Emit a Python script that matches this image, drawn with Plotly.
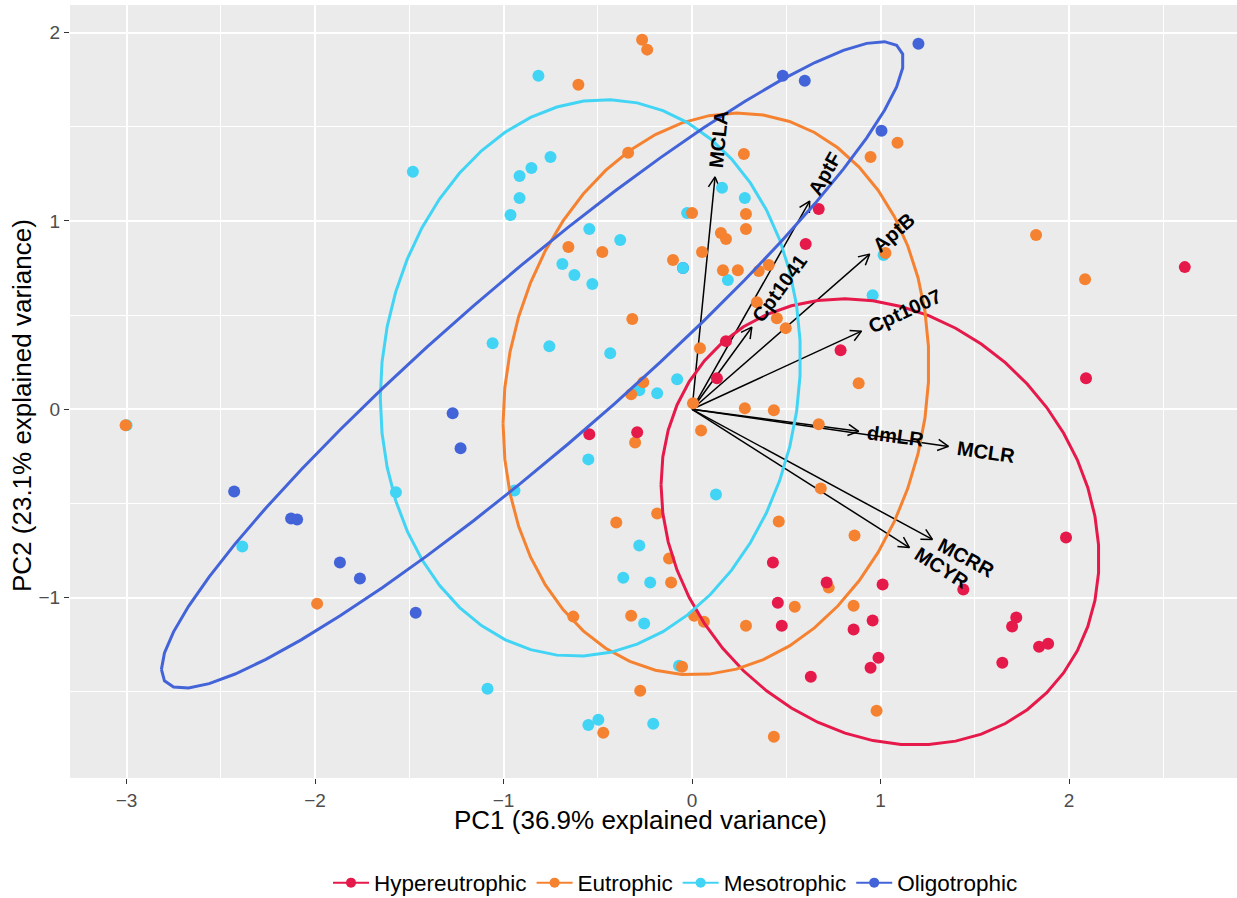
import numpy as np
import plotly.graph_objects as go

# ---------------- data ----------------
groups = ["Hypereutrophic", "Eutrophic", "Mesotrophic", "Oligotrophic"]
group_colors = ["#e6194b", "#f58231", "#42d4f4", "#4363d8"]

hyper_pc1 = [2.614, 2.090, 0.672, 0.603, 0.788, 0.180, 0.132, -0.545, -0.291, 1.984, 1.439, 0.429, 0.455,
             0.476, 0.714, 0.857, 0.958, 1.011, 0.989, 0.947, 0.630, 1.646, 1.698, 1.720, 1.841, 1.889]
hyper_pc2 = [0.755, 0.165, 1.064, 0.878, 0.314, 0.362, 0.165, -0.133, -0.122, -0.681, -0.957, -0.814, -1.027,
             -1.149, -0.920, -1.170, -1.122, -0.931, -1.319, -1.372, -1.420, -1.346, -1.154, -1.106, -1.261, -1.245]

eu_pc1 = [-3.005, -1.989, -0.265, -0.238, -0.603, -0.339, -0.656, -0.476, -0.101, -0.317, -0.259, -0.323,
          -0.302, -0.402, -0.185, -0.122, -0.111, -0.630, -0.323, 0.011, 0.063, -0.053, -0.275, -0.471,
          0.434, 0.286, 0.545, 0.857, 0.725, 0.862, 0.460, 0.683, 0.672, 0.280, 0.434, 0.048, 0.979,
          0.005, 0.042, 0.000, 0.053, 0.153, 0.180, 0.164, 0.243, 0.275, 0.286, 0.286, 0.354, 0.407,
          0.344, 0.450, 0.497, 0.884, 0.947, 1.090, 1.026, 1.825, 2.085]
eu_pc2 = [-0.085, -1.032, 1.963, 1.910, 1.723, 1.362, 0.862, 0.835, 0.793, 0.479, 0.144, 0.080,
          -0.176, -0.601, -0.553, -0.793, -0.920, -1.101, -1.096, -1.096, -1.128, -1.367, -1.495, -1.718,
          -1.739, -1.149, -1.048, -1.043, -0.947, -0.670, -0.596, -0.420, -0.080, 0.005, -0.005, -0.112, -1.601,
          0.032, 0.324, 1.043, 0.835, 0.936, 0.904, 0.739, 0.739, 1.356, 1.037, 0.957, 0.734, 0.766,
          0.569, 0.484, 0.431, 0.138, 1.340, 1.415, 0.830, 0.926, 0.691]

# last value pair: sample hidden under the left-most Eutrophic point
meso_pc1 = [-0.815, -1.481, -0.751, -0.852, -0.915, -0.915, -0.963, -0.545, -0.381, -0.688, -0.624, -0.529,
            -1.058, -0.757, -0.434, -0.079, -0.185, -0.280, -0.026, -0.048, 0.159, 0.280, 0.190, 0.958,
            1.016, -2.386, -1.571, -0.942, -0.550, -0.280, -0.365, -0.222, -0.254, -1.085, -0.550, -0.497,
            -0.206, -0.069, 0.127, -3.000]
meso_pc2 = [1.771, 1.261, 1.340, 1.282, 1.239, 1.122, 1.032, 0.957, 0.899, 0.771, 0.713, 0.665,
            0.351, 0.335, 0.298, 0.160, 0.085, 0.101, 1.043, 0.750, 1.176, 1.122, 0.686, 0.606,
            0.819, -0.729, -0.441, -0.431, -0.266, -0.723, -0.894, -0.920, -1.138, -1.484, -1.676, -1.649,
            -1.670, -1.362, -0.452, -0.085]

# last value pair: sample hidden under an overlapping Mesotrophic point
oligo_pc1 = [1.201, 0.481, 0.598, 1.005, -1.270, -1.228, -1.466, -2.429, -2.127, -2.095, -1.868, -1.762, -0.048]
oligo_pc2 = [1.941, 1.771, 1.745, 1.479, -0.021, -0.207, -1.080, -0.436, -0.580, -0.585, -0.814, -0.899, 0.750]

var_names = ["MCLA", "AptF", "AptB", "Cpt1041", "Cpt1007", "dmLR", "MCLR", "MCRR", "MCYR"]
var_pc1 = [0.122, 0.624, 0.942, 0.317, 0.899, 0.884, 1.360, 1.275, 1.153]
var_pc2 = [1.234, 1.106, 0.824, 0.436, 0.415, -0.117, -0.197, -0.691, -0.734]

x_title = "PC1 (36.9% explained variance)"
y_title = "PC2 (23.1% explained variance)"

# ---------------- layout constants ----------------
W, H = 1237, 898
ML, MR, MT, MB = 70, 0, 5, 120
x_range = [-3.300, 2.891]
y_range = [-1.958, 2.147]
sx = (W - ML - MR) / (x_range[1] - x_range[0])
sy = (H - MT - MB) / (y_range[1] - y_range[0])
FONT = "Liberation Sans, Arial, Helvetica, sans-serif"

group_x = [hyper_pc1, eu_pc1, meso_pc1, oligo_pc1]
group_y = [hyper_pc2, eu_pc2, meso_pc2, oligo_pc2]

fig = go.Figure()

# ---------------- arrows (drawn first, under points) ----------------
head_len = 12.0
head_ang = np.deg2rad(28)
ax_list, ay_list = [], []
for vx, vy in zip(var_pc1, var_pc2):
    px, py = vx * sx, vy * sy
    n = np.hypot(px, py)
    ux, uy = px / n, py / n
    pts = []
    for s in (1, -1):
        c, si = np.cos(s * head_ang), np.sin(s * head_ang)
        rx, ry = ux * c - uy * si, ux * si + uy * c
        pts.append((vx - head_len * rx / sx, vy - head_len * ry / sy))
    ax_list += [0, vx, None, pts[0][0], vx, pts[1][0], None]
    ay_list += [0, vy, None, pts[0][1], vy, pts[1][1], None]

fig.add_trace(go.Scatter(x=ax_list, y=ay_list, mode="lines",
                         line=dict(color="black", width=1.5),
                         hoverinfo="skip", showlegend=False))

# ---------------- points (drawing order: Oligo, Meso, Eu, Hyper) ----------------
for i in [3, 2, 1, 0]:
    fig.add_trace(go.Scatter(x=group_x[i], y=group_y[i], mode="markers", name=groups[i],
                             marker=dict(color=group_colors[i], size=12, line=dict(width=0)),
                             showlegend=False, legendgroup=groups[i]))

# ---------------- normal-probability ellipses (ggbiplot style, p = 0.68) ----------------
ellipse_prob = 0.68
theta = np.linspace(-np.pi, np.pi, 50)
circle = np.column_stack([np.cos(theta), np.sin(theta)])
ed = np.sqrt(-2 * np.log(1 - ellipse_prob))
for g, c, xs, ys in zip(groups, group_colors, group_x, group_y):
    xs_a, ys_a = np.asarray(xs), np.asarray(ys)
    sigma = np.cov(xs_a, ys_a)
    mu = np.array([xs_a.mean(), ys_a.mean()])
    R = np.linalg.cholesky(sigma).T
    ell = circle @ R * ed + mu
    fig.add_trace(go.Scatter(x=ell[:, 0], y=ell[:, 1], mode="lines",
                             line=dict(color=c, width=3),
                             hoverinfo="skip", showlegend=False, legendgroup=g))

# ---------------- legend entries ----------------
for g, c in zip(groups, group_colors):
    fig.add_trace(go.Scatter(x=[None], y=[None], mode="lines+markers", name=g,
                             line=dict(color=c, width=2), marker=dict(color=c, size=10),
                             legendgroup=g))

# ---------------- variable labels ----------------
bold_w = {"M": .833, "C": .722, "L": .611, "A": .722, "p": .611, "t": .333, "F": .611, "B": .722,
          "1": .556, "0": .556, "4": .556, "7": .556, "d": .611, "m": .889, "R": .722, "Y": .667}
lab_size = 20
gap = 9
annotations = []
for name, vx, vy in zip(var_names, var_pc1, var_pc2):
    ang = np.arctan(vy / vx)
    w = sum(bold_w.get(ch, 0.6) for ch in name) * lab_size
    d = gap + w / 2
    annotations.append(dict(
        x=vx, y=vy, xref="x", yref="y", text=name, showarrow=True,
        arrowcolor="rgba(0,0,0,0)", arrowwidth=0.1, arrowhead=0,
        ax=d * np.cos(ang), ay=-d * np.sin(ang),
        textangle=-np.degrees(ang),
        font=dict(family=FONT, size=lab_size, color="black", weight="bold")))

# axis titles
annotations.append(dict(x=(640 - ML) / (W - ML - MR), y=(H - MB - 820) / (H - MT - MB),
                        xref="paper", yref="paper", text=x_title, showarrow=False,
                        xanchor="center", yanchor="middle",
                        font=dict(family=FONT, size=26, color="black")))
annotations.append(dict(x=(22 - ML) / (W - ML - MR), y=(H - MB - 406) / (H - MT - MB),
                        xref="paper", yref="paper", text=y_title, showarrow=False,
                        textangle=-90, xanchor="center", yanchor="middle",
                        font=dict(family=FONT, size=26, color="black")))

axis_common = dict(showgrid=True, gridcolor="white", gridwidth=1.6,
                   minor=dict(tick0=0, dtick=0.5, showgrid=True, gridcolor="white", gridwidth=0.9),
                   zeroline=False, showline=False, ticks="outside", ticklen=5, tickwidth=1.3,
                   tickcolor="#333333", tickmode="linear", tick0=0, dtick=1,
                   tickfont=dict(family=FONT, size=19, color="#4D4D4D"))

fig.update_layout(
    width=W, height=H,
    margin=dict(l=ML, r=MR, t=MT, b=MB, autoexpand=False),
    plot_bgcolor="#EBEBEB", paper_bgcolor="white",
    font=dict(family=FONT, color="black"),
    xaxis=dict(range=x_range, **axis_common),
    yaxis=dict(range=y_range, **axis_common),
    annotations=annotations,
    legend=dict(orientation="h", x=(328 - ML) / (W - ML - MR), y=(H - MB - 883) / (H - MT - MB),
                xanchor="left", yanchor="middle", font=dict(family=FONT, size=22.5, color="black"),
                itemwidth=36, bgcolor="rgba(0,0,0,0)"),
    showlegend=True,
)

fig.write_html("out.html", config={"displayModeBar": False},
               post_script="document.body.style.margin='0';document.body.style.overflow='hidden';")
